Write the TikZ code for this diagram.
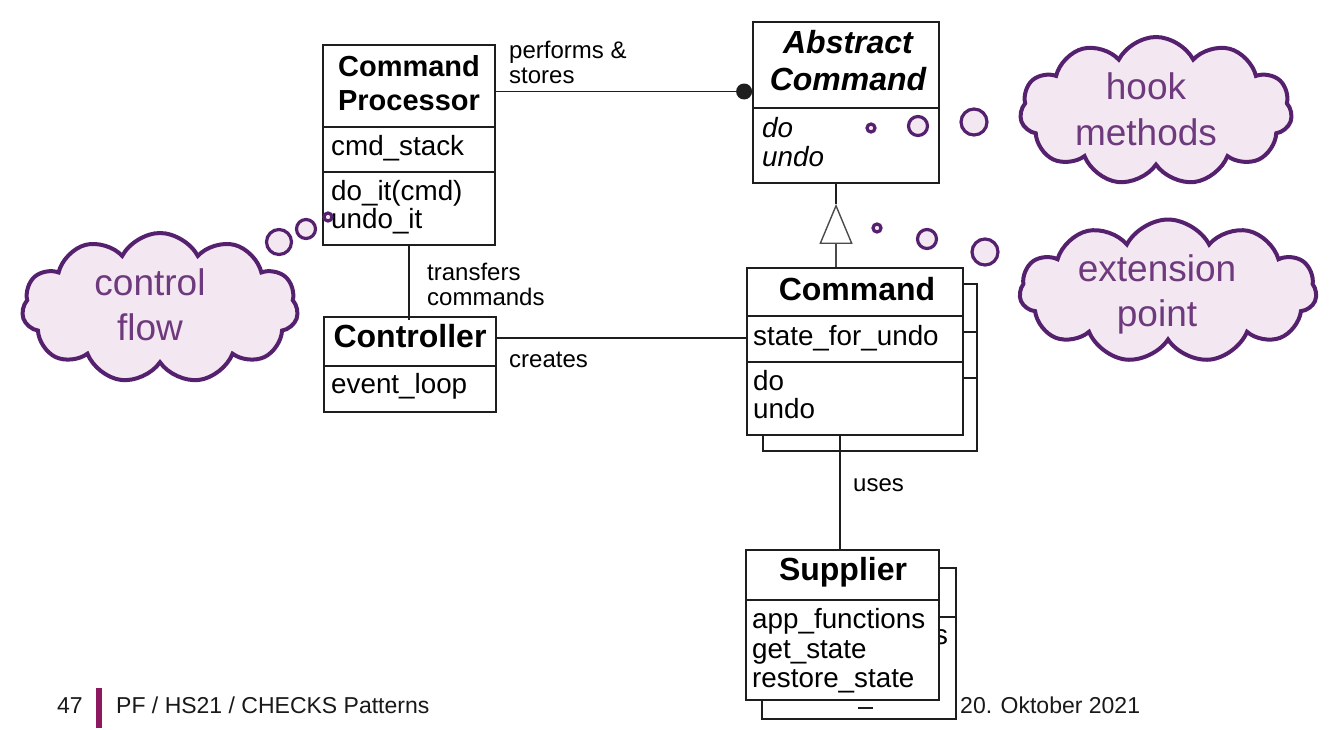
\documentclass[tikz,border=0pt]{standalone}
\usepackage{fontspec}
\setmainfont{Liberation Sans}
\usetikzlibrary{shapes.symbols,arrows.meta}
\definecolor{boxline}{RGB}{30,30,30}
\definecolor{cloudline}{RGB}{85,32,110}
\definecolor{cloudfill}{RGB}{243,232,242}
\definecolor{cloudtext}{RGB}{110,58,125}
\definecolor{footbar}{RGB}{140,25,95}
\begin{document}
\begin{tikzpicture}[x=1pt,y=-1pt,
  box/.style={draw=boxline, fill=white, line width=1.8, inner sep=0, rectangle},
  txt/.style={anchor=base west, inner sep=0, font=\fontsize{27.8}{29}\selectfont},
  itxt/.style={anchor=base west, inner sep=0, font=\fontsize{27.8}{29}\selectfont\itshape},
  ttl/.style={anchor=base, inner sep=0, font=\fontsize{32}{36}\selectfont\bfseries},
  ttlsmall/.style={anchor=base, inner sep=0, font=\fontsize{29}{34}\selectfont\bfseries},
  ittl/.style={anchor=base, inner sep=0, font=\fontsize{32}{36}\selectfont\bfseries\itshape},
  lbl/.style={anchor=base west, inner sep=0, font=\fontsize{24}{25}\selectfont},
  conn/.style={draw=boxline, line width=1.8},
  thought/.style={cloud, cloud puffs=11, cloud puff arc=125, cloud ignores aspect, draw=cloudline, fill=cloudfill, line width=4, inner sep=0},
  bubble/.style={circle, draw=cloudline, fill=cloudfill, line width=3.2, inner sep=0},
  cltxt/.style={anchor=base, inner sep=0, text=cloudtext, font=\fontsize{37}{40}\selectfont},
  foot/.style={anchor=base west, inner sep=0, font=\fontsize{23}{25}\selectfont, text=black!90}
]
\fill[white] (0,0) rectangle (1335,729);
\useasboundingbox (0,0) rectangle (1335,729);

% ---------- Command Processor ----------
\node[box, minimum width=172, minimum height=200] (cp) at (409,145) {};
\draw[conn] (323,127) -- (495,127);
\draw[conn] (323,172) -- (495,172);
\node[ttlsmall] (cpt1) at (409,76) {Command};
\node[ttlsmall] (cpt2) at (409,110) {Processor};
\node[txt] (cpa) at (331,155) {cmd\_stack};
\node[txt] (cpm1) at (331,200) {do\_it(cmd)};
\node[txt] (cpm2) at (331,228) {undo\_it};

% ---------- Abstract Command ----------
\node[box, minimum width=186, minimum height=161] (ac) at (846,102.5) {};
\draw[conn] (753,108) -- (939,108);
\node[ittl] (act1) at (848,53) {Abstract};
\node[ittl] (act2) at (848,90) {Command};
\node[itxt] (acm1) at (762,137) {do};
\node[itxt] (acm2) at (762,166) {undo};

% ---------- Command (stacked) ----------
\draw[conn, fill=white] (763,284) rectangle (977,451);
\draw[conn] (963,332) -- (977,332);
\draw[conn] (963,378) -- (977,378);
\node[box, minimum width=216, minimum height=167] (cmd) at (855,351.5) {};
\draw[conn] (747,316) -- (963,316);
\draw[conn] (747,362) -- (963,362);
\node[ttl] (cmdt) at (857,300) {Command};
\node[txt] (cmda) at (753,345) {state\_for\_undo};
\node[txt] (cmdm1) at (753,390) {do};
\node[txt] (cmdm2) at (753,418) {undo};

% ---------- Controller ----------
\node[box, minimum width=172, minimum height=95] (ctrl) at (410,364.5) {};
\draw[conn] (324,366) -- (496,366);
\node[ttl] (ctrlt) at (410,347) {Controller};
\node[txt] (ctrla) at (331,393) {event\_loop};

% ---------- Supplier (stacked) ----------
\node[box, minimum width=194, minimum height=151] (supb) at (859,643.5) {};
\draw[conn] (939,617) -- (956,617);
\begin{scope}
  \clip (940,600) rectangle (960,660);
  \node[txt] (supbs) at (934,644) {s};
\end{scope}
\draw[conn] (858,708) -- (873,708);
\node[box, minimum width=193, minimum height=150] (sup) at (842.5,625) {};
\draw[conn] (746,600) -- (939,600);
\node[ttl] (supt) at (843,580) {Supplier};
\node[txt] (sup1) at (752,628) {app\_functions};
\node[txt] (sup2) at (752,658) {get\_state};
\node[txt] (sup3) at (752,687) {restore\_state};

% ---------- connectors ----------
\coordinate (dot) at ([xshift=-8]ac.west |- 0,91.5);
\draw[conn] (cp.east |- dot) -- (dot);
\fill[boxline] (dot) circle (8);
\node[lbl] (lperf1) at (509,58) {performs \&};
\node[lbl] (lperf2) at (509,83) {stores};

\draw[conn] (cp.south) -- ([yshift=-4]cp.south |- ctrl.north);
\node[lbl] (ltr1) at (427,280) {transfers};
\node[lbl] (ltr2) at (427,305) {commands};

\draw[conn] (ctrl.east |- 0,338) -- (cmd.west |- 0,338);
\node[lbl] (lcr) at (509,367) {creates};

\coordinate (gtop) at ([xshift=-10]ac.south);
\coordinate (gbot) at (gtop |- cmd.north);
\draw[draw=boxline, line width=1.8] (gtop) -- ([yshift=-20]gtop);
\draw[draw=boxline!80, line width=1.4, -{Triangle[open, length=40, width=33, line width=1.4]}, shorten >=20] (gbot) -- (gtop);

\coordinate (utop) at ([xshift=-15]cmd.south);
\draw[conn] (utop) -- (utop |- sup.north);
\node[lbl] (luse) at (853,491) {uses};

% ---------- clouds ----------
\node[thought, minimum width=272, minimum height=148] (hook) at (1156,111) {};
\node[cltxt] (hook1) at (1146,99) {hook};
\node[cltxt] (hook2) at (1146,145) {methods};
\node[bubble, minimum size=8] (hb1) at (871,128) {};
\node[bubble, minimum size=19] (hb2) at (918,126) {};
\node[bubble, minimum size=26] (hb3) at (974,122) {};

\node[thought, minimum width=297, minimum height=143] (ext) at (1168,291) {};
\node[cltxt] (ext1) at (1157,281) {extension};
\node[cltxt] (ext2) at (1157,326) {point};
\node[bubble, minimum size=8] (eb1) at (877,228) {};
\node[bubble, minimum size=19] (eb2) at (927,239) {};
\node[bubble, minimum size=26] (eb3) at (985,252) {};

\node[thought, minimum width=276, minimum height=150] (ctl) at (160,308) {};
\node[cltxt] (ctl1) at (150,295) {control};
\node[cltxt] (ctl2) at (150,340) {flow};
\node[bubble, minimum size=8] (cb1) at (328,217) {};
\node[bubble, minimum size=19] (cb2) at (306,229) {};
\node[bubble, minimum size=25] (cb3) at (279,242) {};

% ---------- footer ----------
\node[foot] (pg) at (57,713) {47};
\fill[footbar] (96,688) rectangle (102,728);
\node[foot] (ft) at (116,713) {PF / HS21 / CHECKS Patterns};
\node[foot] (dt) at (960,713) {20. Oktober 2021};
\end{tikzpicture}
\end{document}
